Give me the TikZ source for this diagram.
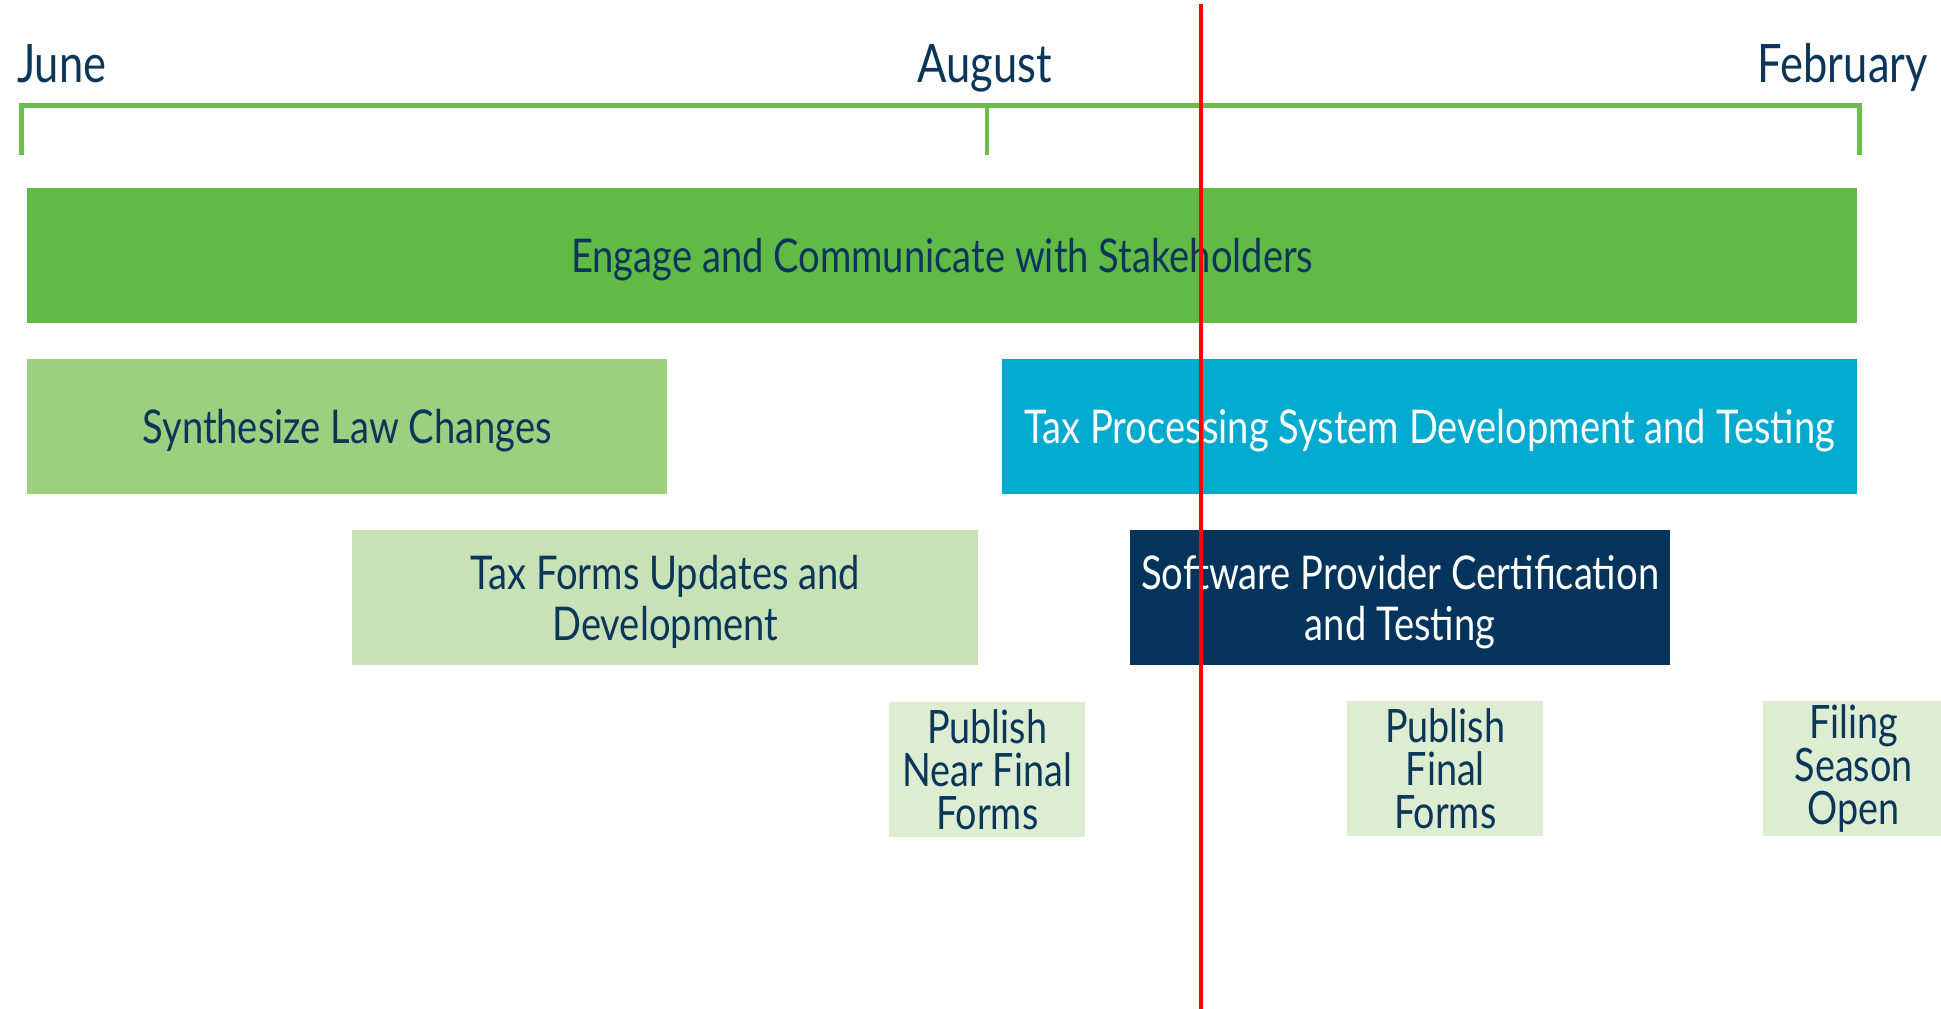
\documentclass[tikz,border=0pt]{standalone}
\usepackage{fontspec}
\setmainfont{Lato}[FakeStretch=0.82]
\usetikzlibrary{positioning}

\definecolor{navy}{HTML}{0B3559}
\definecolor{timeg}{HTML}{6CBE4C}
\definecolor{engageg}{HTML}{62BA46}
\definecolor{synthg}{HTML}{9CCF80}
\definecolor{formsg}{HTML}{C8E2B8}
\definecolor{mileg}{HTML}{DCEDD2}
\definecolor{taxcyan}{HTML}{00ABCF}
\definecolor{certnavy}{HTML}{04345C}

\tikzset{
	bar/.style={rectangle,inner sep=0pt,minimum height=135pt,align=center,text=navy,text depth=0pt,
		font=\fontsize{46.5}{51}\selectfont},
	mile/.style={rectangle,fill=mileg,inner sep=0pt,minimum width=196pt,minimum height=135pt,
		align=center,text=navy,font=\fontsize{46}{43}\selectfont},
	month/.style={inner sep=0pt,text=navy,font=\fontsize{53}{55}\selectfont}
}

\begin{document}
\begin{tikzpicture}[x=1pt,y=-1pt]
		\useasboundingbox (0,0) rectangle (1941,1009);
		
		% timeline
		\foreach \n/\x in {jun/21,aug/987,feb/1859}{
			\coordinate (\n-top) at (\x,105);
			\coordinate (\n-bot) at (\x,155);
		}
		\draw[timeg,line width=5pt] (jun-bot) -- (jun-top) -- (feb-top) -- (feb-bot);
		\draw[timeg,line width=4pt] (aug-top) -- (aug-bot);
		
		\node[month,anchor=base west] (june) at (17,82) {June};
		\node[month,anchor=base] (august) at (985,82) {August};
		\node[month,anchor=base east] (february) at (1928,82) {February};
		
		% bars
		\node[bar,fill=engageg,anchor=north west,minimum width=1830pt] (engage) at (27,188) {Engage and Communicate with Stakeholders};
		\node[bar,fill=synthg,anchor=north west,minimum width=640pt] (synth) at (27,359) {Synthesize Law Changes};
		\node[bar,fill=taxcyan,text=white,anchor=north west,minimum width=855pt] (taxproc) at (1002,359) {Tax Processing System Development and Testing};
		\node[bar,fill=formsg,anchor=north west,minimum width=626pt] (forms) at (352,530) {Tax Forms Updates and\\Development};
		\node[bar,fill=certnavy,text=white,anchor=north west,minimum width=540pt] (cert) at (1130,530) {Software Provider Certification\\and Testing};
		
		% milestones
		\node[mile,anchor=north west] (nearfinal) at (889,702) {Publish\\Near Final\\Forms};
		\node[mile,anchor=north west] (final) at (1347,701) {Publish\\Final\\Forms};
		\node[mile,anchor=north west,minimum width=181pt] (filing) at (1763,701) {Filing\\Season\\Open};
		
		% today
		\coordinate (now-top) at (1201,4);
		\coordinate (now-bot) at (1201,1009);
		\draw[red,line width=4pt] (now-top) -- (now-bot);
\end{tikzpicture}
\end{document}
